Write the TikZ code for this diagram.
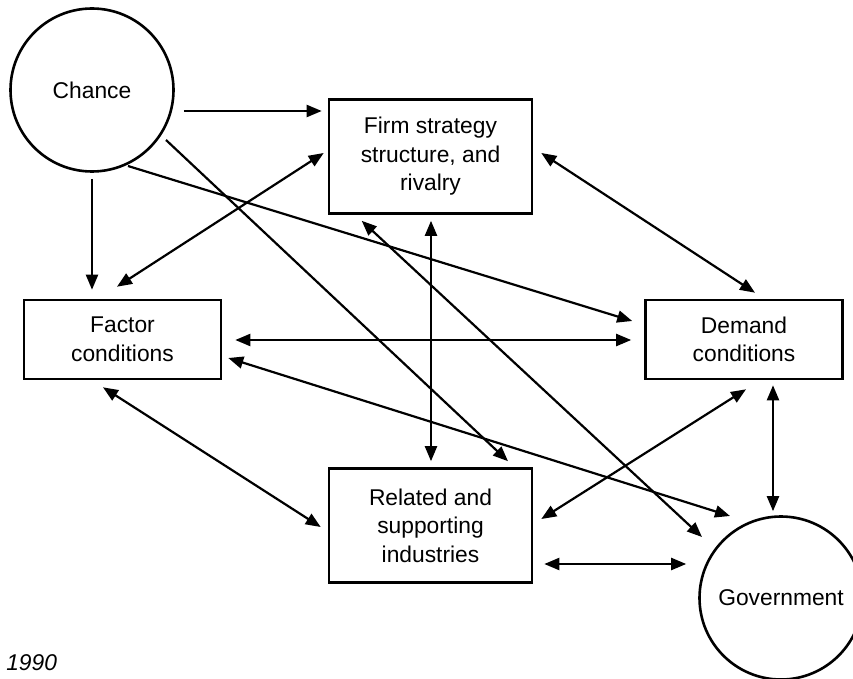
\documentclass[tikz,border=0pt]{standalone}
\usepackage{fontspec}
\setmainfont{Liberation Sans}
\usetikzlibrary{arrows.meta}

\begin{document}
\begin{tikzpicture}[
    x=1pt, y=-1pt,
    >={Triangle[length=15pt,width=12pt]},
    line width=2.2pt,
    every node/.style={draw, line width=2.6pt, inner sep=0pt, align=center,
      font=\fontsize{22.8}{28.5}\selectfont},
    factorbox/.style={rectangle, minimum width=197pt, minimum height=79pt},
    bigbox/.style={rectangle, minimum width=203pt, minimum height=114pt},
    actor/.style={circle, minimum size=163pt}
]
  \useasboundingbox (0,0) rectangle (853,679);

  % nodes
  \node[actor]     (chance)  at (92,90)      {Chance};
  \node[bigbox]    (firm)    at (430.5,156.5) {Firm strategy\\structure, and\\rivalry};
  \node[factorbox] (factor)  at (122.5,339.5) {Factor\\conditions};
  \node[factorbox] (demand)  at (744,339.5)   {Demand\\conditions};
  \node[bigbox]    (related) at (430.5,525.5) {Related and\\supporting\\industries};
  \node[actor]     (govt)    at (781,598)     {Government};
  \node[draw=none, anchor=base west, font=\fontsize{22.8}{28.5}\selectfont\itshape]
                   (year)    at (5,670)       {1990};

  % edges from chance
  \draw[->] ([xshift=9pt,yshift=-21pt]chance.east) -- ([xshift=-6pt,yshift=45.5pt]firm.west);
  \draw[->] ([yshift=-6pt]chance.south) -- ([xshift=-30.5pt,yshift=9pt]factor.north);
  \draw[->] ([xshift=74pt,yshift=-50pt]chance.center) -- ([xshift=77.5pt,yshift=6pt]related.north);
  \draw[->] ([xshift=36pt,yshift=-76pt]chance.center) -- ([xshift=-12pt,yshift=18.5pt]demand.west);

  % edges between the four boxes
  \draw[<->] ([xshift=-5.5pt,yshift=12pt]factor.north) -- ([xshift=-4pt,yshift=3.5pt]firm.west);
  \draw[<->] ([xshift=8pt,yshift=3.5pt]firm.east) -- ([xshift=11pt,yshift=6pt]demand.north);
  \draw[<->] ([xshift=0.5pt,yshift=-6pt]firm.south) -- ([xshift=0.5pt,yshift=6pt]related.north);
  \draw[<->] ([xshift=13pt,yshift=-0.5pt]factor.east) -- ([xshift=-13pt,yshift=-0.5pt]demand.west);
  \draw[<->] ([xshift=-19.5pt,yshift=-7pt]factor.south) -- ([xshift=-7pt,yshift=-1.5pt]related.west);
  \draw[<->] ([xshift=2pt,yshift=-9pt]demand.south) -- ([xshift=8pt,yshift=6.5pt]related.east);

  % edges to government
  \draw[<->] ([xshift=34pt,yshift=-6pt]firm.south west) -- ([xshift=-79pt,yshift=61pt]govt.center);
  \draw[<->] ([xshift=6pt,yshift=-18.5pt]factor.east) -- ([xshift=-51pt,yshift=82pt]govt.center);
  \draw[<->] ([xshift=29pt,yshift=-5pt]demand.south) -- ([xshift=-8pt,yshift=4pt]govt.north);
  \draw[<->] ([xshift=11pt,yshift=-38.5pt]related.east) -- ([xshift=-12pt,yshift=34pt]govt.west);
\end{tikzpicture}
\end{document}
